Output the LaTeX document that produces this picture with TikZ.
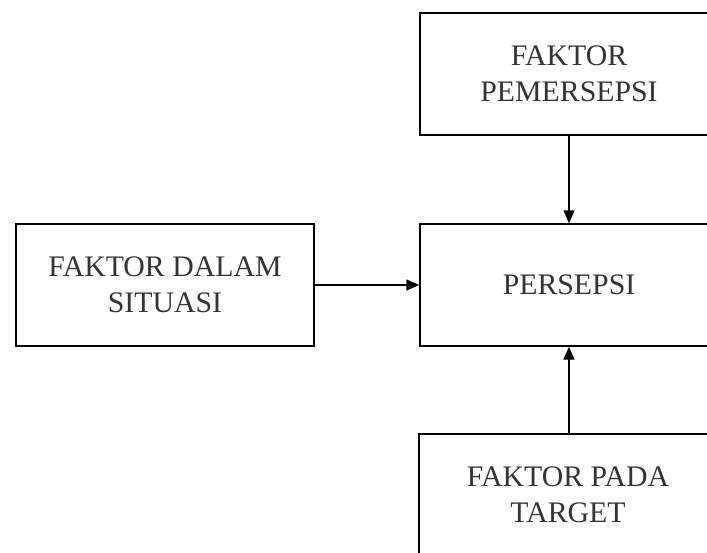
\documentclass[tikz,border=0pt]{standalone}
\usepackage{fontspec}
\setmainfont{Liberation Serif}
\usetikzlibrary{arrows.meta}
\begin{document}
\begin{tikzpicture}[x=1pt,y=1pt,
  box/.style={draw, line width=1.4pt, minimum width=298pt, minimum height=122pt, inner sep=0pt, align=center,
    font=\fontsize{29.8}{36}\selectfont, text=black!80},
  conn/.style={line width=1.4pt, -{Triangle[length=13pt,width=11pt]}}]
\useasboundingbox (0,0) rectangle (707,-552);
\clip (0,0) rectangle (707,-552);
\node[box] (sit) at (165,-285) {FAKTOR DALAM\\SITUASI};
\node[box] (per) at (569,-285) {PERSEPSI};
\node[box] (pem) at (569,-74) {FAKTOR\\PEMERSEPSI};
\node[box] (tar) at (568,-495) {FAKTOR PADA\\TARGET};
\draw[conn] (pem.south) -- (per.north);
\draw[conn] (sit.east) -- (per.west);
\draw[conn] (tar.north -| per.south) -- (per.south);
\end{tikzpicture}
\end{document}
